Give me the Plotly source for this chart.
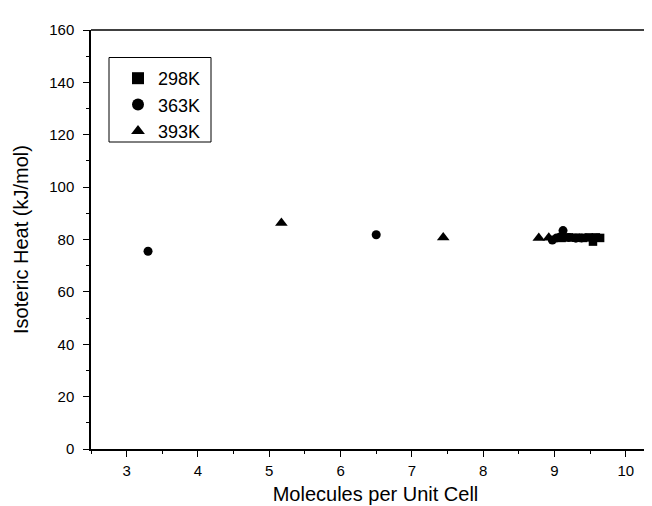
import plotly.graph_objects as go

x_298 = [9.1, 9.2, 9.3, 9.4, 9.48, 9.54, 9.58, 9.64]
y_298 = [80.6, 80.8, 80.7, 80.6, 80.8, 79.2, 80.8, 80.6]
x_363 = [3.30, 6.50, 8.97, 9.03, 9.08, 9.12, 9.2, 9.3, 9.38]
y_363 = [75.5, 81.8, 79.8, 80.6, 81.0, 83.4, 80.8, 80.5, 80.6]
x_393 = [5.17, 7.44, 8.78, 8.92]
y_393 = [86.3, 80.8, 80.6, 80.7]

x_ticks = [3, 4, 5, 6, 7, 8, 9, 10]

W, H = 652, 506
L, R, T, B = 83, 0, 22, 65
pw, ph = W - L - R, H - T - B


def px_x(p):
    return (p - L) / pw


def px_y(p):
    return (H - B - p) / ph


fig = go.Figure()
for name, xs, ys, sym, sz in [("298K", x_298, y_298, "square", 8.5),
                              ("363K", x_363, y_363, "circle", 9),
                              ("393K", x_393, y_393, "triangle-up", 11)]:
    fig.add_trace(go.Scatter(x=xs, y=ys, mode="markers", name=name,
                             marker=dict(symbol=sym, color="black", size=sz, line=dict(width=0))))

fig.update_layout(
    width=W, height=H, plot_bgcolor="white", paper_bgcolor="white",
    margin=dict(l=L, r=R, t=T, b=B),
    font=dict(family="Liberation Sans, Arial", size=15, color="black"),
    xaxis=dict(range=[2.5, 10.48], tickvals=x_ticks, showline=True, linecolor="black", linewidth=1.5,
               ticks="outside", ticklen=6, tickwidth=1.2, tickcolor="black", showgrid=False, zeroline=False,
               automargin=False, ticklabelstandoff=1,
               minor=dict(dtick=0.5, ticks="outside", ticklen=3, tickwidth=1.2, tickcolor="black"),
               title=dict(text="Molecules per Unit Cell", font=dict(size=20), standoff=9)),
    yaxis=dict(range=[0, 160], dtick=20, showline=True, linecolor="black", linewidth=1.5,
               ticks="outside", ticklen=6, tickwidth=1.2, tickcolor="black", showgrid=False, zeroline=False,
               automargin=False, ticklabelstandoff=6,
               minor=dict(dtick=10, ticks="outside", ticklen=3, tickwidth=1.2, tickcolor="black"),
               title=dict(text="Isoteric Heat (kJ/mol)", font=dict(size=20), standoff=15)),
    legend=dict(x=px_x(110), y=px_y(52), xanchor="left", yanchor="top", borderwidth=0,
                bgcolor="rgba(0,0,0,0)", font=dict(size=18), tracegroupgap=0,
                itemsizing="constant"),
    shapes=[
        dict(type="line", xref="paper", yref="paper", x0=0, x1=1, y0=1, y1=1,
             line=dict(color="black", width=1.5)),
        dict(type="rect", xref="paper", yref="paper", x0=px_x(101), x1=px_x(203),
             y0=px_y(134), y1=px_y(49.5), line=dict(color="black", width=1)),
    ],
)
fig.write_html("out.html")
